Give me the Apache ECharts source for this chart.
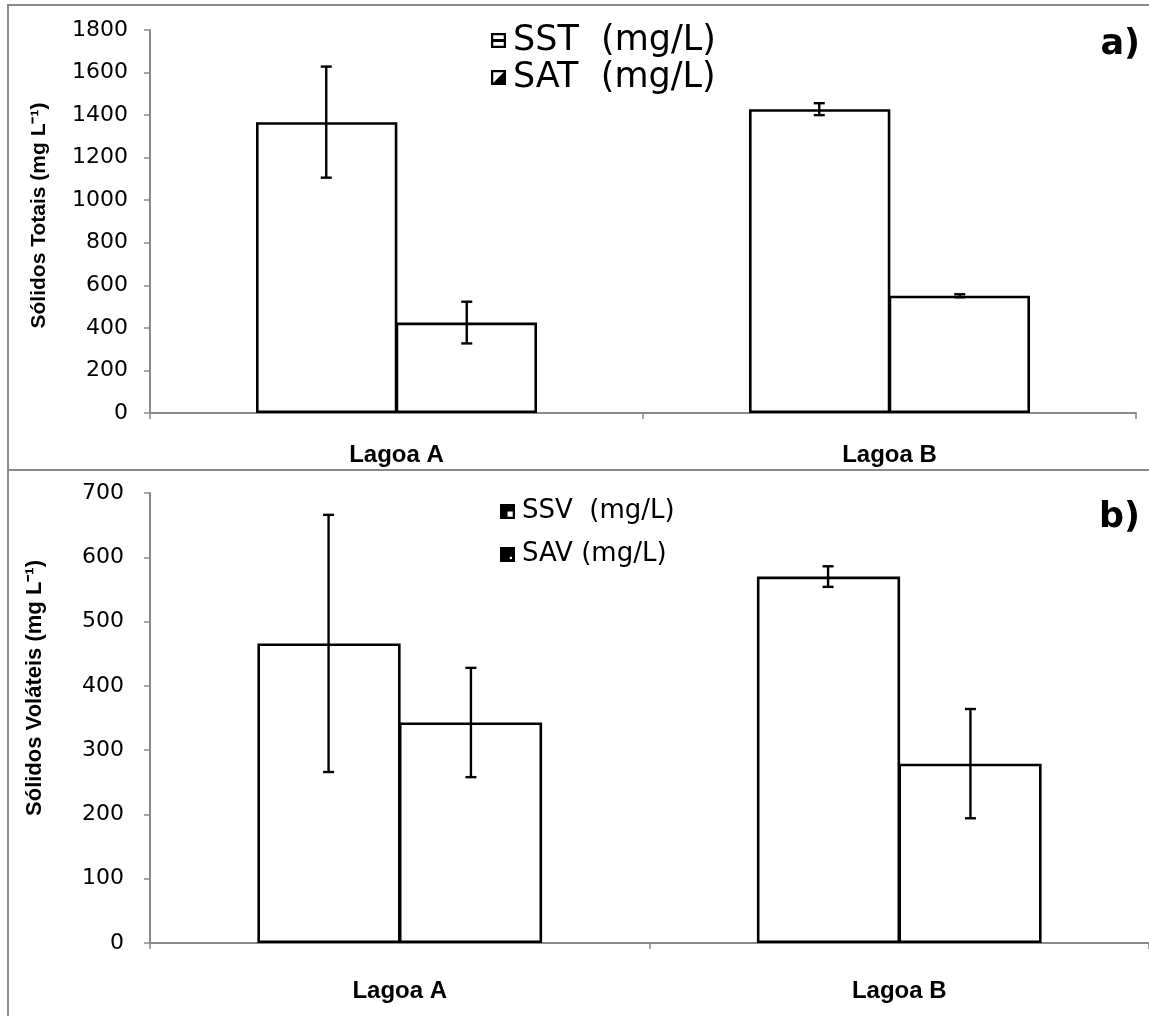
<!DOCTYPE html>
<html>
<head>
<meta charset="utf-8">
<script src="https://cdn.jsdelivr.net/npm/echarts@6/dist/echarts.min.js"></script>
<style>html,body{margin:0;padding:0;background:#fff}#c{width:1149px;height:1016px}</style>
</head>
<body>
<div id="c"></div>
<script>
// ---- data ----
const categories = ['Lagoa A', 'Lagoa B'];
// panel a) Sólidos Totais
const sstValues = [1367, 1428];
const sstErrors = [261, 28];
const satValues = [425, 551];
const satErrors = [98, 7];
// panel b) Sólidos Voláteis
const ssvValues = [466, 570];
const ssvErrors = [200, 16];
const savValues = [343, 279];
const savErrors = [85, 85];
const ticksA = {min: 0, max: 1800, interval: 200};
const ticksB = {min: 0, max: 700, interval: 100};

const CAT_GAP = 0.43;
const GRAY = '#8a8a8a';

function errRender(sign) {
  return function (params, api) {
    const x = api.value(0), y = api.value(1), e = api.value(2);
    const c = api.coord([x, y]);
    const band = api.size([1, 0])[0];
    const bw = band * (1 - CAT_GAP) / 2;
    const cx = c[0] + sign * bw / 2;
    const hi = api.coord([x, y + e])[1];
    const lo = api.coord([x, y - e])[1];
    const st = {stroke: '#000', lineWidth: 2.4};
    const cap = 5.5;
    return {type: 'group', children: [
      {type: 'line', shape: {x1: cx, y1: hi, x2: cx, y2: lo}, style: st},
      {type: 'line', shape: {x1: cx - cap, y1: hi, x2: cx + cap, y2: hi}, style: st},
      {type: 'line', shape: {x1: cx - cap, y1: lo, x2: cx + cap, y2: lo}, style: st}
    ]};
  };
}
const toErr = (v, e) => v.map((d, i) => [i, d, e[i]]);

const barStyle = {color: '#fff', borderColor: '#000', borderWidth: 2.6};
function bar(name, data, xi, last) {
  const s = {name, type: 'bar', data, xAxisIndex: xi, yAxisIndex: xi, itemStyle: barStyle, barGap: '-1.2%', z: 2};
  if (last) s.barCategoryGap = (CAT_GAP * 100) + '%';
  return s;
}
function errSeries(vals, errs, xi, sign) {
  return {type: 'custom', renderItem: errRender(sign), data: toErr(vals, errs), xAxisIndex: xi, yAxisIndex: xi, z: 5, silent: true};
}

const iconSST = 'path://M0,0L10,0L10,10L0,10Z M1.5,1.5L1.5,4L8.5,4L8.5,1.5Z M1.5,6L1.5,8.5L8.5,8.5L8.5,6Z';
const iconSAT = 'path://M0,0L10,0L10,10L0,10Z M1.5,1.5L1.5,8.5L8.5,1.5Z';
const iconSSV = 'path://M0,0L10,0L10,10L0,10Z M5,5L5,8.5L8.5,8.5L8.5,5Z';
const iconSAV = 'path://M0,0L10,0L10,10L0,10Z M6.5,6.5L6.5,8L8,8L8,6.5Z';

const plain = v => String(v);
const yLab = {color: '#000', fontFamily: 'DejaVu Sans', fontSize: 22, margin: 22, formatter: plain};
const xLab = {color: '#000', fontFamily: 'Liberation Sans', fontWeight: 'bold', fontSize: 24};
const nameStyle = {color: '#000', fontFamily: 'Liberation Sans', fontWeight: 'bold', fontSize: 21};

const option = {
  animation: false,
  backgroundColor: '#fff',
  grid: [
    {left: 150, top: 30, width: 986, height: 383},
    {left: 150, top: 493, width: 999, height: 450}
  ],
  xAxis: [0, 1].map(i => ({
    type: 'category', gridIndex: i, data: categories,
    axisLine: {lineStyle: {color: GRAY, width: 2}},
    axisTick: {show: true, length: 6, lineStyle: {color: GRAY, width: 1.5}},
    axisLabel: Object.assign({}, xLab, {margin: i === 0 ? 30 : 36}),
    splitLine: {show: false}
  })),
  yAxis: [
    Object.assign({type: 'value', gridIndex: 0}, ticksA, {
      name: 'Sólidos Totais (mg L⁻¹)', nameLocation: 'middle', nameGap: 100,
      nameTextStyle: Object.assign({}, nameStyle, {padding: [0, 0, 0, 12]}),
      axisLine: {show: true, lineStyle: {color: GRAY, width: 2}},
      axisTick: {show: true, length: 6, lineStyle: {color: GRAY, width: 1.5}},
      axisLabel: yLab, splitLine: {show: false}
    }),
    Object.assign({type: 'value', gridIndex: 1}, ticksB, {
      name: 'Sólidos Voláteis (mg L⁻¹)', nameLocation: 'middle', nameGap: 104,
      nameTextStyle: Object.assign({}, nameStyle, {fontSize: 22, padding: [0, 0, 0, 60]}),
      axisLine: {show: true, lineStyle: {color: GRAY, width: 2}},
      axisTick: {show: true, length: 6, lineStyle: {color: GRAY, width: 1.5}},
      axisLabel: Object.assign({}, yLab, {margin: 26}), splitLine: {show: false}
    })
  ],
  legend: [
    {
      orient: 'vertical', left: 491, top: 22, padding: 0, itemGap: 0,
      itemWidth: 15, itemHeight: 15, selectedMode: false,
      textStyle: {color: '#000', fontFamily: 'DejaVu Sans', fontSize: 35, lineHeight: 37, padding: [0, 0, 0, 2]},
      data: [
        {name: 'SST  (mg/L)', icon: iconSST, itemStyle: {color: '#000', borderWidth: 0}},
        {name: 'SAT  (mg/L)', icon: iconSAT, itemStyle: {color: '#000', borderWidth: 0}}
      ]
    },
    {
      orient: 'vertical', left: 500, top: 490, padding: 0, itemGap: 0,
      itemWidth: 15, itemHeight: 15, selectedMode: false,
      textStyle: {color: '#000', fontFamily: 'DejaVu Sans', fontSize: 26, lineHeight: 43, padding: [0, 0, 0, 2]},
      data: [
        {name: 'SSV  (mg/L)', icon: iconSSV, itemStyle: {color: '#000', borderWidth: 0}},
        {name: 'SAV (mg/L)', icon: iconSAV, itemStyle: {color: '#000', borderWidth: 0}}
      ]
    }
  ],
  graphic: [
    {type: 'rect', shape: {x: 8, y: 5, width: 1160, height: 465}, style: {fill: 'none', stroke: GRAY, lineWidth: 2}, z: 0},
    {type: 'rect', shape: {x: 8, y: 470, width: 1160, height: 570}, style: {fill: 'none', stroke: GRAY, lineWidth: 2}, z: 0},
    {type: 'text', x: 1140, y: 45, style: {text: 'a)', fill: '#000', font: 'bold 35px "DejaVu Sans"', textAlign: 'right', textVerticalAlign: 'middle'}, z: 10},
    {type: 'text', x: 1140, y: 518, style: {text: 'b)', fill: '#000', font: 'bold 35px "DejaVu Sans"', textAlign: 'right', textVerticalAlign: 'middle'}, z: 10}
  ],
  series: [
    bar('SST  (mg/L)', sstValues, 0, false),
    bar('SAT  (mg/L)', satValues, 0, true),
    errSeries(sstValues, sstErrors, 0, -1),
    errSeries(satValues, satErrors, 0, 1),
    bar('SSV  (mg/L)', ssvValues, 1, false),
    bar('SAV (mg/L)', savValues, 1, true),
    errSeries(ssvValues, ssvErrors, 1, -1),
    errSeries(savValues, savErrors, 1, 1)
  ]
};
const chart = echarts.init(document.getElementById('c'), null, {renderer: 'canvas'});
chart.setOption(option);
</script>
</body>
</html>
